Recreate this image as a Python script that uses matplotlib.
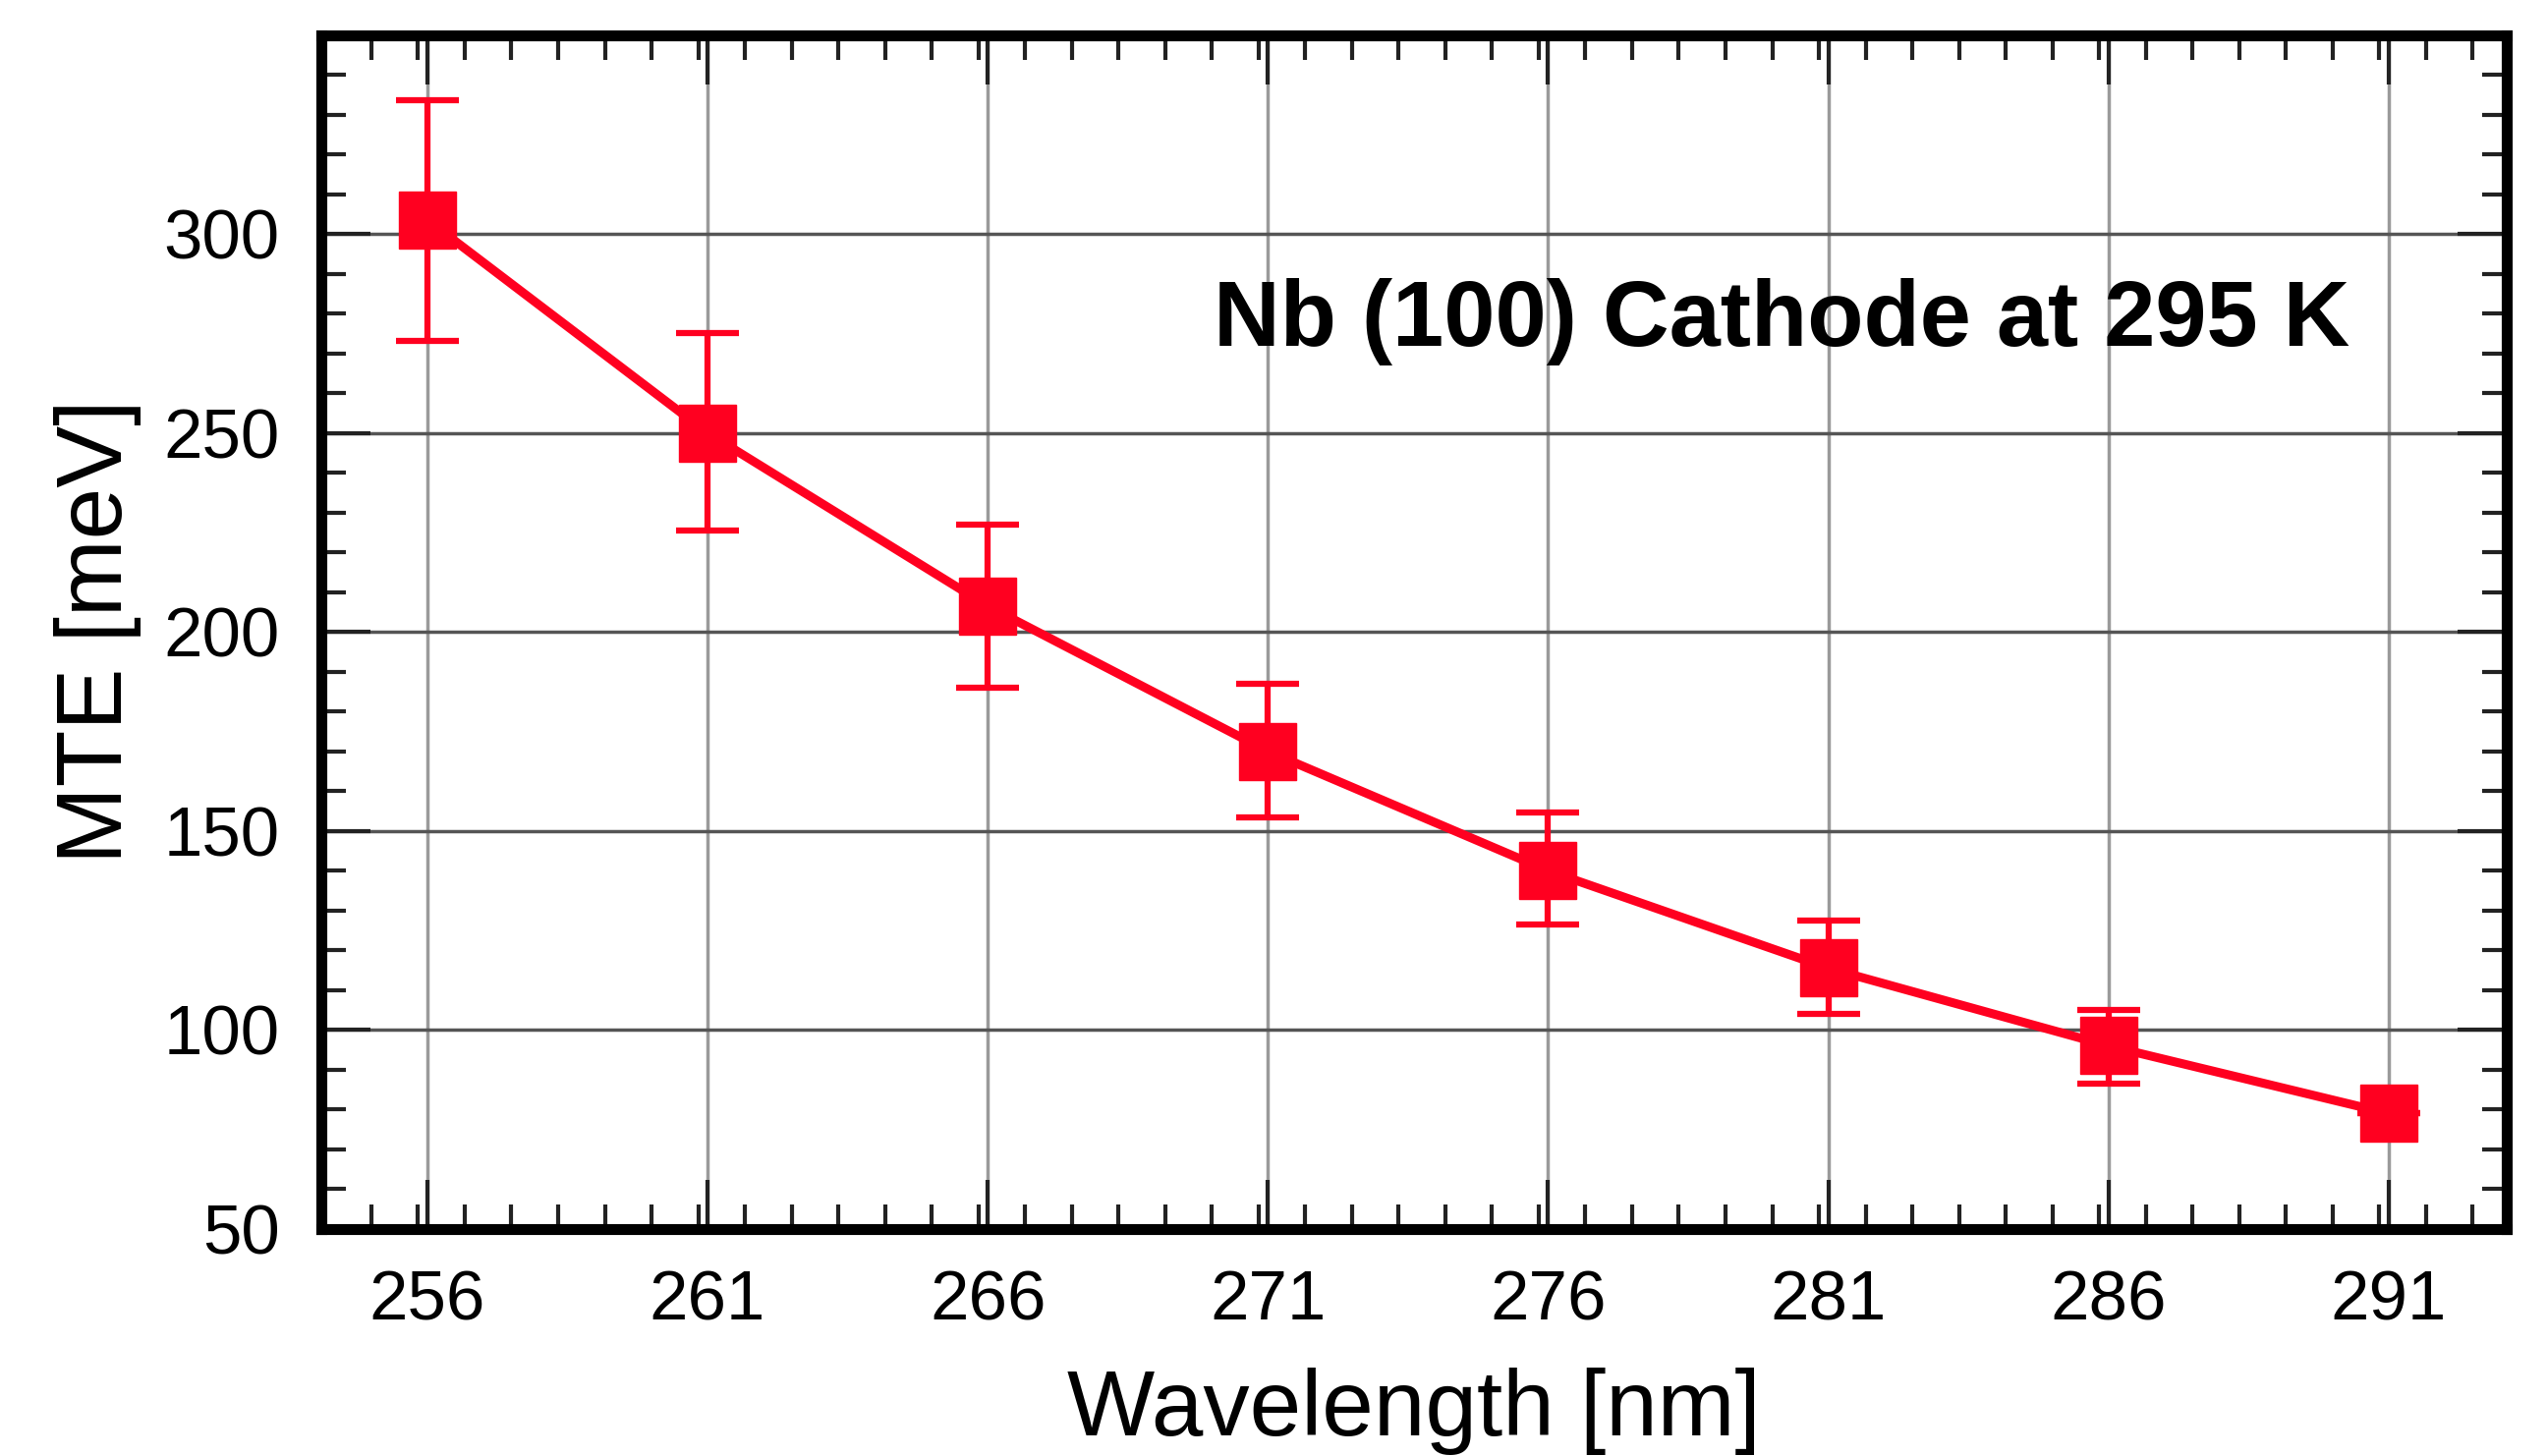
import matplotlib.pyplot as plt
from matplotlib.ticker import MultipleLocator

# values
wavelength = [256, 261, 266, 271, 276, 281, 286, 291]
mte = [303.5, 250, 206.5, 170, 140, 115.5, 96, 79]
err_low = [30.5, 24.5, 20.5, 16.5, 13.5, 11.5, 9.5, 0]
err_high = [30, 25, 20.5, 17, 14.5, 12, 9, 0]

red = '#ff0020'
plt.rcParams['font.family'] = ['Liberation Sans', 'DejaVu Sans']

fig = plt.figure(figsize=(25.92, 14.82), dpi=100)
ax = fig.add_axes([0.126, 0.156, 0.858, 0.82])

ax.plot(wavelength, mte, color=red, lw=6.5, zorder=3)
ax.errorbar(wavelength, mte, yerr=[err_low, err_high], fmt='s', color=red,
            ms=42, elinewidth=4.5, capsize=23, capthick=4.5, zorder=4)

ax.set_xlim(254.1, 293.1)
ax.set_ylim(50, 350)
ax.set_xticks(wavelength)
ax.set_yticks([50, 100, 150, 200, 250, 300])
ax.xaxis.set_minor_locator(MultipleLocator(5 / 6))
ax.yaxis.set_minor_locator(MultipleLocator(10))

ax.xaxis.grid(True, which='major', color='#9a9a9a', lw=2.5, zorder=1)
ax.yaxis.grid(True, which='major', color='#555555', lw=2.5, zorder=1)
ax.tick_params(which='both', direction='in', top=True, right=True,
               width=3, color='#222222')
ax.tick_params(which='major', length=36, labelsize=51, pad=30)
ax.tick_params(which='minor', length=18)
for s in ax.spines.values():
    s.set_linewidth(8)

ax.set_xlabel('Wavelength [nm]', fontsize=68, labelpad=24)
ax.set_ylabel('MTE [meV]', fontsize=68, labelpad=16)

ax.text(290.3, 278, 'Nb (100) Cathode at 295 K', fontsize=67.5,
        fontweight='bold', ha='right', va='center')

fig.savefig('out.png', dpi=100)
